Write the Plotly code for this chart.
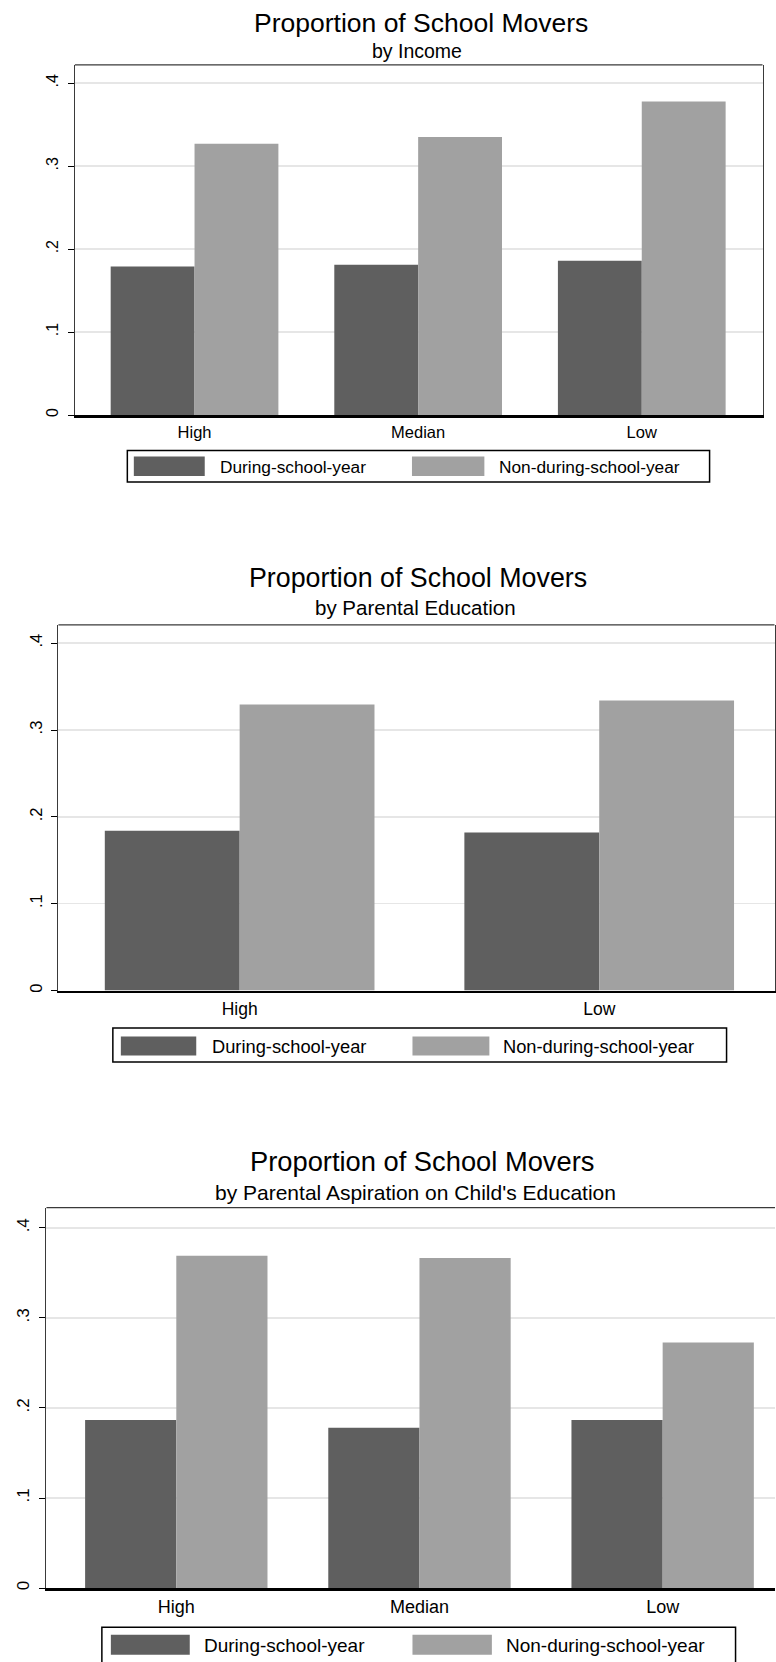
import plotly.graph_objects as go

# ---------------- data ----------------
series_names = ["During-school-year", "Non-during-school-year"]

income_cats = ["High", "Median", "Low"]
income_during = [0.179, 0.181, 0.186]
income_nondur = [0.327, 0.335, 0.378]

edu_cats = ["High", "Low"]
edu_during = [0.184, 0.182]
edu_nondur = [0.3295, 0.334]

asp_cats = ["High", "Median", "Low"]
asp_during = [0.1866, 0.178, 0.1866]
asp_nondur = [0.369, 0.3666, 0.2726]

ytick_vals = [0, 0.1, 0.2, 0.3, 0.4]
ytick_text = ["0", ".1", ".2", ".3", ".4"]

main_title = "Proportion of School Movers"
subtitles = ["by Income", "by Parental Education",
             "by Parental Aspiration on Child's Education"]

# ---------------- style ----------------
W, H = 776, 1662
FONT = "Liberation Sans, Arial, sans-serif"
DARK = "#5f5f5f"
LIGHT = "#a1a1a1"
GRID = "#e6e6e6"
FRAME = "#3a3a3a"


def X(px):
    return px / W


def Y(py):
    return 1 - py / H


# per-panel layout geometry (pixels)
panels = [
    dict(cats=income_cats, d=income_during, n=income_nondur,
         x0=75, x1=763.5, y0=65, y1=415.5, yr=0.4220, xr=[-0.535, 2.540],
         mirror=True, title=(421.75, 23.0, 26.5), sub=(417.5, 51.0, 19.5),
         catf=16.5, tickf=16, legbox=(127.5, 451, 710.5, 482.5),
         sw1=(134, 205), sw2=(412.5, 485), swy=(457, 476.5), t1=218.5, t2=497.5,
         ty=467.3, legf=17.3),
    dict(cats=edu_cats, d=edu_during, n=edu_nondur,
         x0=58.5, x1=775.5, y0=625.7, y1=991.7, yr=0.4210, xr=[-0.504, 1.4875],
         mirror=True, title=(418.5, 579.0, 26.8), sub=(415.75, 608.5, 20.5),
         catf=17.5, tickf=16.5, legbox=(113, 1029.3, 727.5, 1063.3),
         sw1=(121, 196.5), sw2=(413, 490), swy=(1037.7, 1056.7), t1=210, t2=501.5,
         ty=1047.3, legf=18.3),
    dict(cats=asp_cats, d=asp_during, n=asp_nondur,
         x0=46.5, x1=776, y0=1209, y1=1590, yr=0.4225, xr=[-0.534, 2.462],
         mirror=False, title=(422.5, 1162.5, 27.3), sub=(416.25, 1193.5, 21),
         catf=18, tickf=17, legbox=(102, 1629.3, 736.5, 1672),
         sw1=(111, 190), sw2=(413, 492.5), swy=(1636.7, 1656.7), t1=202.5, t2=505,
         ty=1647.3, legf=19),
]

fig = go.Figure()
shapes = []
annotations = []
layout = {}

for i, p in enumerate(panels, start=1):
    sfx = "" if i == 1 else str(i)
    xa, ya = "x" + sfx, "y" + sfx
    fig.add_trace(go.Bar(x=p["cats"], y=p["d"], name=series_names[0],
                         marker=dict(color=DARK, line=dict(width=0)),
                         xaxis=xa, yaxis=ya, showlegend=False))
    fig.add_trace(go.Bar(x=p["cats"], y=p["n"], name=series_names[1],
                         marker=dict(color=LIGHT, line=dict(width=0)),
                         xaxis=xa, yaxis=ya, showlegend=False))

    layout["xaxis" + sfx] = dict(
        domain=[X(p["x0"]), min(1.0, X(p["x1"]))], anchor=ya,
        type="category", range=p["xr"], showgrid=False, zeroline=False,
        showline=True, linecolor="black", linewidth=2.5, mirror=False,
        ticks="", tickfont=dict(family=FONT, size=p["catf"], color="black"),
        ticklabelstandoff=1, fixedrange=True)
    layout["yaxis" + sfx] = dict(
        domain=[Y(p["y1"]), Y(p["y0"])], anchor=xa,
        range=[0, p["yr"]], tickvals=ytick_vals, ticktext=ytick_text,
        tickangle=-90, ticks="outside", ticklen=6, tickcolor="black", tickwidth=1,
        showgrid=True, gridcolor=GRID, gridwidth=1.5, zeroline=False,
        showline=True, linecolor=FRAME, linewidth=1.2, mirror=p["mirror"],
        tickfont=dict(family=FONT, size=p["tickf"], color="black"),
        ticklabelstandoff=3, fixedrange=True)

    # top frame line
    shapes.append(dict(type="line", xref="paper", yref="paper",
                       x0=X(p["x0"]), x1=min(1.0, X(p["x1"])),
                       y0=Y(p["y0"]), y1=Y(p["y0"]),
                       line=dict(color=FRAME, width=1.2)))

    # titles
    tx, tyy, ts = p["title"]
    annotations.append(dict(text=main_title, x=X(tx), y=Y(tyy), xref="paper", yref="paper",
                            xanchor="center", yanchor="middle", showarrow=False,
                            font=dict(family=FONT, size=ts, color="black")))
    sx, sy, ss = p["sub"]
    annotations.append(dict(text=subtitles[i - 1], x=X(sx), y=Y(sy), xref="paper", yref="paper",
                            xanchor="center", yanchor="middle", showarrow=False,
                            font=dict(family=FONT, size=ss, color="black")))

    # legend box
    bx0, by0, bx1, by1 = p["legbox"]
    shapes.append(dict(type="rect", xref="paper", yref="paper",
                       x0=X(bx0), x1=X(bx1), y0=Y(by1), y1=Y(by0),
                       line=dict(color="black", width=1.5), fillcolor="white"))
    for (sx0, sx1), col in ((p["sw1"], DARK), (p["sw2"], LIGHT)):
        shapes.append(dict(type="rect", xref="paper", yref="paper",
                           x0=X(sx0), x1=X(sx1), y0=Y(p["swy"][1]), y1=Y(p["swy"][0]),
                           line=dict(width=0), fillcolor=col))
    for tx0, name in ((p["t1"], series_names[0]), (p["t2"], series_names[1])):
        annotations.append(dict(text=name, x=X(tx0), y=Y(p["ty"]), xref="paper", yref="paper",
                                xanchor="left", yanchor="middle", showarrow=False,
                                font=dict(family=FONT, size=p["legf"], color="black")))

fig.update_layout(
    width=W, height=H,
    margin=dict(l=0, r=0, t=0, b=0),
    paper_bgcolor="white", plot_bgcolor="white",
    barmode="group", bargap=0.25, bargroupgap=0,
    showlegend=False,
    shapes=shapes, annotations=annotations,
    **layout,
)

# remove the browser's default 8px body margin so the figure sits at the page origin
fig.write_html("out.html",
               config={"displayModeBar": False, "staticPlot": True},
               post_script="document.body.style.margin='0px';document.body.style.overflow='hidden';")
